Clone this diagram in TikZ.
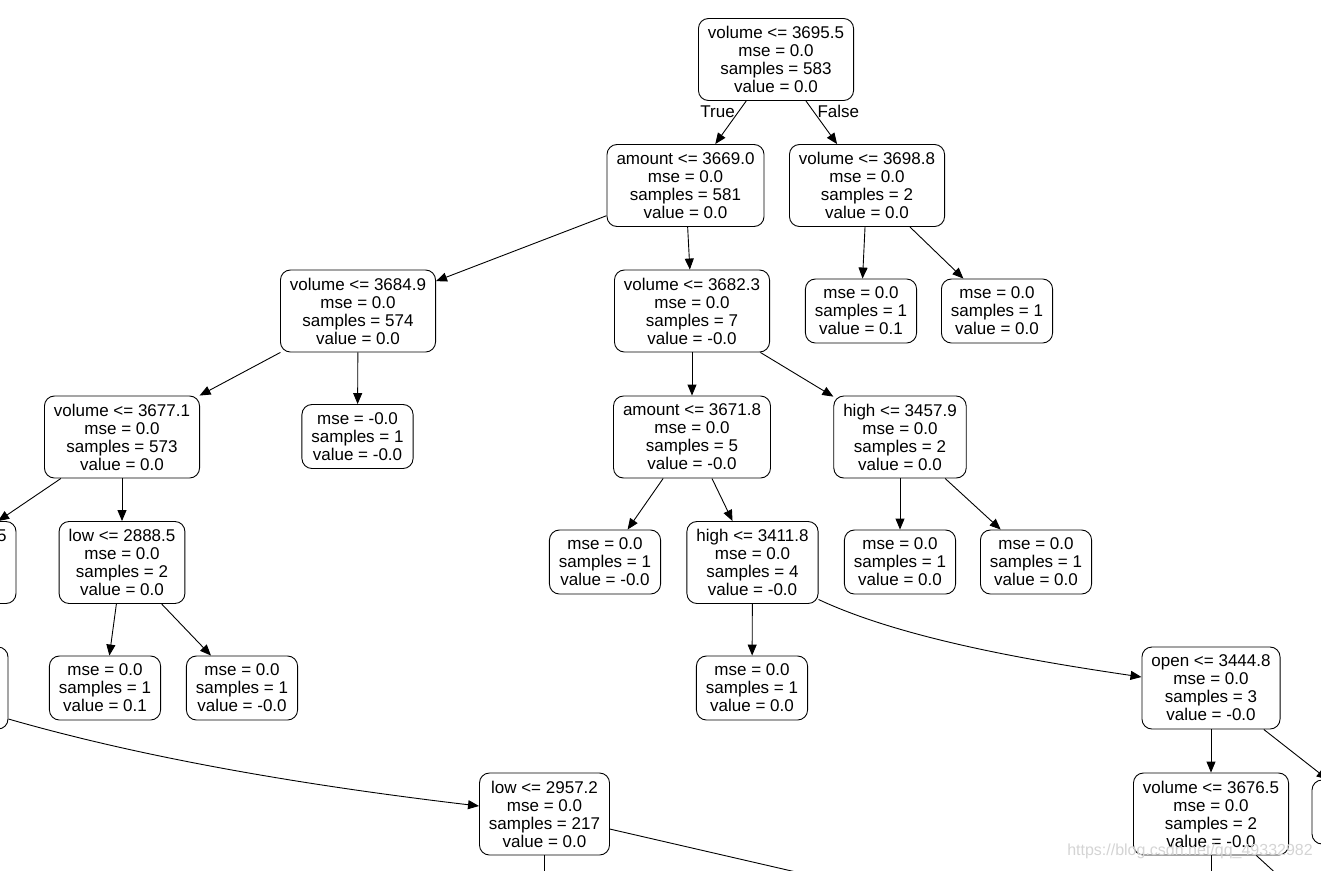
\documentclass[tikz,border=0pt]{standalone}
\usepackage{fontspec}
\setmainfont{Liberation Sans}
\usetikzlibrary{arrows.meta}

\newcommand{\treefont}{\fontsize{17}{18}\selectfont}

\tikzset{
    split/.style={draw=black, line width=0.9pt, rounded corners=10pt, align=center, inner xsep=9.5pt, inner ysep=2pt, minimum height=82pt, font=\treefont},
    leaf/.style={split, minimum height=64pt},
    branch/.style={-{Triangle[length=11pt, width=9pt]}, line width=0.9pt},
}

\begin{document}
\begin{tikzpicture}[x=1pt, y=-1pt]
    \useasboundingbox (0,0) rectangle (1321,870);
    \clip (0,0) rectangle (1321,870);

    % Level 0
    \node (root) at (776,59.5) [split] {volume <= 3695.5\\mse = 0.0\\samples = 583\\value = 0.0};

    % Level 1
    \node (amt1) at (685.5,185.5) [split] {amount <= 3669.0\\mse = 0.0\\samples = 581\\value = 0.0};
    \node (vol2) at (867,185.5) [split] {volume <= 3698.8\\mse = 0.0\\samples = 2\\value = 0.0};

    % Level 2
    \node (vol3) at (358,311) [split] {volume <= 3684.9\\mse = 0.0\\samples = 574\\value = 0.0};
    \node (vol4) at (692,311) [split] {volume <= 3682.3\\mse = 0.0\\samples = 7\\value = -0.0};
    \node (leaf1) at (861,311) [leaf] {mse = 0.0\\samples = 1\\value = 0.1};
    \node (leaf2) at (997,311) [leaf] {mse = 0.0\\samples = 1\\value = 0.0};

    % Level 3
    \node (vol5) at (122,437) [split] {volume <= 3677.1\\mse = 0.0\\samples = 573\\value = 0.0};
    \node (leaf3) at (357.5,436.5) [leaf] {mse = -0.0\\samples = 1\\value = -0.0};
    \node (amt2) at (692,437) [split] {amount <= 3671.8\\mse = 0.0\\samples = 5\\value = -0.0};
    \node (high1) at (900,437) [split] {high <= 3457.9\\mse = 0.0\\samples = 2\\value = 0.0};

    % Level 4
    \node (cutA) at (-63,562.5) [split, text width=139pt, align=right] {5\\~\\~\\~};
    \node (low1) at (122,562.5) [split] {low <= 2888.5\\mse = 0.0\\samples = 2\\value = 0.0};
    \node (leaf4) at (605,562) [leaf] {mse = 0.0\\samples = 1\\value = -0.0};
    \node (high2) at (752.5,562.5) [split] {high <= 3411.8\\mse = 0.0\\samples = 4\\value = -0.0};
    \node (leaf5) at (900,562) [leaf] {mse = 0.0\\samples = 1\\value = 0.0};
    \node (leaf6) at (1036,562) [leaf] {mse = 0.0\\samples = 1\\value = 0.0};

    % Level 5
    \node (cutB) at (-67,688) [split, text width=131pt] {~\\~\\~\\~};
    \node (leaf7) at (105,688) [leaf] {mse = 0.0\\samples = 1\\value = 0.1};
    \node (leaf8) at (242,688) [leaf] {mse = 0.0\\samples = 1\\value = -0.0};
    \node (leaf9) at (752,688) [leaf] {mse = 0.0\\samples = 1\\value = 0.0};
    \node (open1) at (1211,688) [split] {open <= 3444.8\\mse = 0.0\\samples = 3\\value = -0.0};

    % Level 6
    \node (low2) at (544.5,814) [split] {low <= 2957.2\\mse = 0.0\\samples = 217\\value = 0.0};
    \node (vol6) at (1211,814) [split] {volume <= 3676.5\\mse = 0.0\\samples = 2\\value = -0.0};
    \node (cutC) at (1369,812) [leaf, text width=95pt] {~\\~\\~};

    % Children below the page
    \coordinate (offA) at (544.5,900);
    \coordinate (offB) at (900,896);
    \coordinate (offC) at (1211,900);
    \coordinate (offD) at (1305,900);

    % Edges
    \draw [branch] (root) -- node[pos=0.25, left, font=\treefont] {True} (amt1);
    \draw [branch] (root) -- node[pos=0.25, right, font=\treefont] {False} (vol2);
    \draw [branch] (amt1) -- (vol3);
    \draw [branch] (amt1) -- (vol4);
    \draw [branch] (vol2) -- (leaf1);
    \draw [branch] (vol2) -- (leaf2);
    \draw [branch] (vol3) -- (vol5);
    \draw [branch] (vol3) -- (leaf3);
    \draw [branch] (vol4) -- (amt2);
    \draw [branch] (vol4) -- (high1);
    \draw [branch] (vol5) -- (cutA);
    \draw [branch] (vol5) -- (low1);
    \draw [branch] (amt2) -- (leaf4);
    \draw [branch] (amt2) -- (high2);
    \draw [branch] (high1) -- (leaf5);
    \draw [branch] (high1) -- (leaf6);
    \draw [branch] (low1) -- (leaf7);
    \draw [branch] (low1) -- (leaf8);
    \draw [branch] (high2) -- (leaf9);
    \draw [branch] ([yshift=-37pt]high2.east) .. controls (905,640) and (1040,662) .. ([yshift=11pt]open1.west);
    \draw [branch] ([yshift=-31pt]cutB.east) .. controls (158,762) and (327,788) .. ([yshift=8pt]low2.west);
    \draw [branch] (open1) -- (vol6);
    \draw [branch] (open1) -- (cutC);
    \draw [branch] (low2) -- (offA);
    \draw [branch] (low2) -- (offB);
    \draw [branch] (vol6) -- (offC);
    \draw [branch] (vol6) -- (offD);

    % Watermark
    \node (watermark) at (1190,851) [font=\fontsize{16}{18}\selectfont, text=black!17] {https://blog.csdn.net/qq\_49332982};
\end{tikzpicture}
\end{document}
